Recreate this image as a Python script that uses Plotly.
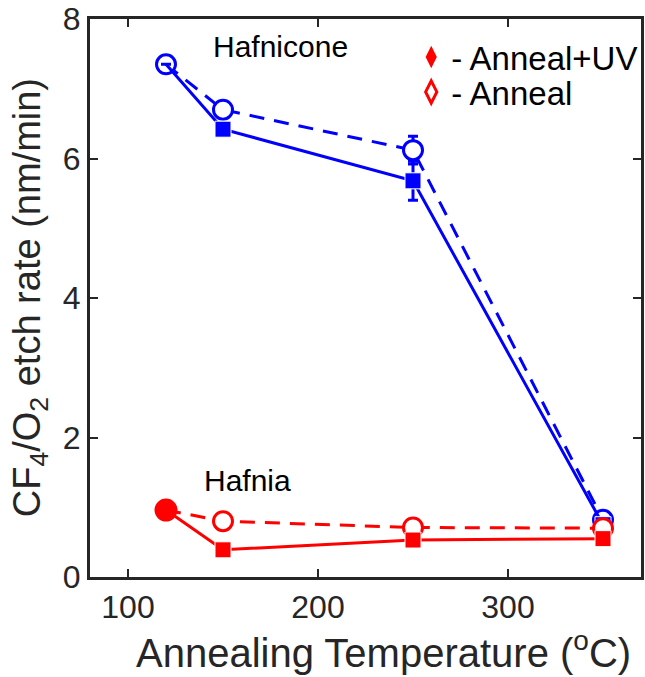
import plotly.graph_objects as go

# ---- data ----
temps = [120, 150, 250, 350]
hafnicone_anneal = [7.35, 6.70, 6.12, 0.82]
hafnicone_anneal_err = [0, 0, 0.20, 0.07]
hafnicone_uv = [7.35, 6.42, 5.68, 0.75]
hafnicone_uv_err = [0, 0, 0.28, 0.05]
hafnia_anneal = [0.96, 0.80, 0.71, 0.70]
hafnia_uv = [0.96, 0.39, 0.53, 0.55]

x_ticks = [100, 200, 300]
y_ticks = [0, 2, 4, 6, 8]

BLUE = "#0000FF"
RED = "#FF0000"
INK = "#262626"
FONT = "Liberation Sans"

fig = go.Figure()

# Hafnicone - anneal (dashed, open circles)
fig.add_trace(go.Scatter(
    x=temps, y=hafnicone_anneal, mode="lines+markers",
    line=dict(color=BLUE, width=3, dash="15px,10px"),
    marker=dict(symbol="circle", size=19, color="white", opacity=1,
                line=dict(color=BLUE, width=3)),
    error_y=dict(type="data", array=hafnicone_anneal_err, color=BLUE, thickness=3, width=5),
    showlegend=False))
# Hafnicone - anneal+UV (solid, filled squares)
fig.add_trace(go.Scatter(
    x=temps, y=hafnicone_uv, mode="lines+markers",
    line=dict(color=BLUE, width=3),
    marker=dict(symbol="square", size=[0, 16, 16, 16], color=BLUE, opacity=1),
    error_y=dict(type="data", array=hafnicone_uv_err, color=BLUE, thickness=3, width=5),
    showlegend=False))
# Hafnia - anneal (dashed, open circles; first point filled)
fig.add_trace(go.Scatter(
    x=temps, y=hafnia_anneal, mode="lines+markers",
    line=dict(color=RED, width=3, dash="15px,10px"),
    marker=dict(symbol="circle", size=[20, 19, 19, 19], opacity=1,
                color=[RED, "white", "white", "white"], line=dict(color=RED, width=3)),
    showlegend=False))
# Hafnia - anneal+UV (solid, filled squares)
fig.add_trace(go.Scatter(
    x=temps, y=hafnia_uv, mode="lines+markers",
    line=dict(color=RED, width=3),
    marker=dict(symbol="square", size=[0, 16, 16, 16], color=RED, opacity=1),
    showlegend=False))

# legend entries (two independent legends for exact placement)
fig.add_trace(go.Scatter(
    x=[None], y=[None], mode="markers", name="- Anneal+UV", legend="legend",
    marker=dict(symbol="diamond-tall", size=16, color=RED)))
fig.add_trace(go.Scatter(
    x=[None], y=[None], mode="markers", name="- Anneal", legend="legend2",
    marker=dict(symbol="diamond-tall-open", size=16, color=RED, line=dict(width=3))))

fig.add_annotation(x=180, y=7.6, text="Hafnicone", showarrow=False,
                   font=dict(family=FONT, size=30, color="black"))
fig.add_annotation(x=163, y=1.39, text="Hafnia", showarrow=False,
                   font=dict(family=FONT, size=30, color="black"))

# axis titles as annotations for precise placement
fig.add_annotation(xref="paper", yref="paper", x=0.533, y=-0.131,
                   xanchor="center", yanchor="middle", showarrow=False,
                   text="Annealing Temperature (<sup>o</sup>C)",
                   font=dict(family=FONT, size=40, color=INK))
fig.add_annotation(xref="paper", yref="paper", x=-0.1085, y=0.5,
                   xanchor="center", yanchor="middle", showarrow=False, textangle=-90,
                   text="CF<sub>4</sub>/O<sub>2</sub> etch rate (nm/min)",
                   font=dict(family=FONT, size=38, color=INK))

axis_common = dict(
    showline=True, linecolor=INK, linewidth=3, mirror="allticks",
    ticks="inside", ticklen=8, tickwidth=2, tickcolor=INK,
    showgrid=False, zeroline=False,
    tickfont=dict(family=FONT, size=32, color=INK),
)

fig.update_xaxes(range=[80, 370], tickvals=x_ticks, **axis_common)
fig.update_yaxes(range=[0, 8], tickvals=y_ticks, **axis_common)

leg_common = dict(xanchor="left", yanchor="middle", bgcolor="rgba(0,0,0,0)",
                  itemwidth=30, font=dict(family=FONT, size=33, color="black"))
fig.update_layout(
    width=645, height=677,
    margin=dict(l=90, r=2, t=19, b=100),
    paper_bgcolor="white", plot_bgcolor="white",
    font=dict(family=FONT),
    legend=dict(x=0.583, y=(577 - 57) / 558, **leg_common),
    legend2=dict(x=0.583, y=(577 - 92) / 558, **leg_common),
)

fig.write_html("out.html")
